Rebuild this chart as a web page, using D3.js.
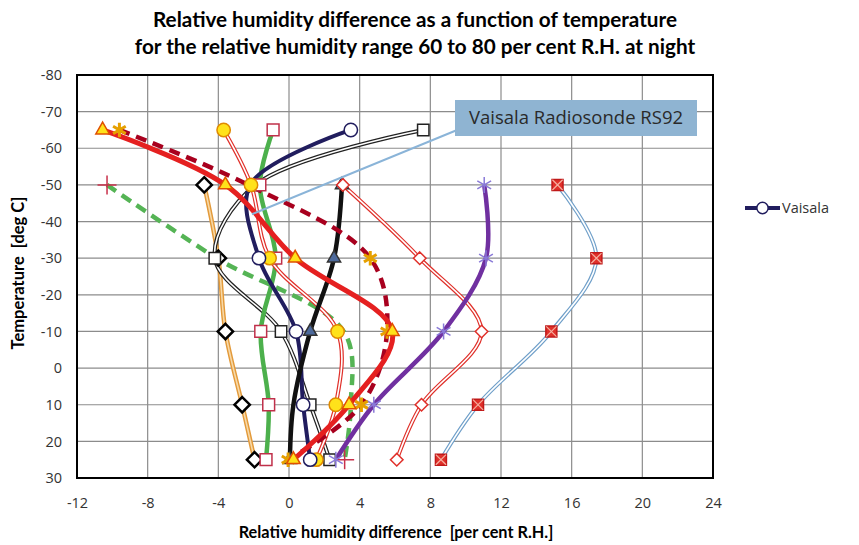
<!DOCTYPE html>
<meta charset="utf-8">
<script src="https://d3js.org/d3.v7.min.js"></script>
<style>
  body { margin: 0; background: #fff; }
  text { font-family: "Open Sans", sans-serif; white-space: pre; }
</style>
<div id="chart"></div>
<script>

// temperature levels (deg C) at which each series was sampled
var temps = [-65, -50, -30, -10, 10, 25];

// relative humidity difference per series (null = no value at that level)
var vaisala      = [3.5, -2.2, -1.7, 0.4, 0.8, 1.2];
var blackDouble  = [7.6, -1.9, -4.2, -0.45, 1.2, 2.3];
var redYellowCirc= [-3.7, -2.15, -1.1, 2.75, 2.65, 1.55];
var greenSquares = [-0.9, -1.65, -0.75, -1.6, -1.15, -1.3];
var orangeDiam   = [null, -4.8, -4.0, -3.6, -2.65, -1.95];
var redTriangles = [-10.55, -3.6, 0.35, 5.85, 3.4, 0.25];
var darkRedDash  = [-9.6, -2.3, 4.6, 5.55, 4.1, -0.05];
var greenDash    = [null, -10.3, -4.1, 3.1, 3.5, 3.15];
var purpleX      = [null, 11.05, 11.15, 8.75, 4.8, 2.65];
var redDiamonds  = [null, 3.05, 7.4, 10.9, 7.5, 6.1];
var blueRedSq    = [null, 15.2, 17.4, 14.85, 10.7, 8.6];
var blackTri     = [null, 3.0, 2.55, 1.2, 0.25, 0.05];

var xTicks = [-12, -8, -4, 0, 4, 8, 12, 16, 20, 24];
var yTicks = [-80, -70, -60, -50, -40, -30, -20, -10, 0, 10, 20, 30];

var width = 859, height = 545;
var margin = {top: 75, right: 146, bottom: 67, left: 77};

var svg = d3.select("#chart").append("svg")
    .attr("width", width)
    .attr("height", height);

var x = d3.scaleLinear().domain([-12, 24]).range([margin.left, width - margin.right]);
var y = d3.scaleLinear().domain([-80, 30]).range([margin.top, height - margin.bottom]);

// grid
svg.append("g").selectAll("line").data(xTicks).enter().append("line")
    .attr("x1", function(d) { return x(d); }).attr("x2", function(d) { return x(d); })
    .attr("y1", y(-80)).attr("y2", y(30))
    .attr("stroke", "#8c8c8c").attr("stroke-width", 1.2);
svg.append("g").selectAll("line").data(yTicks).enter().append("line")
    .attr("x1", x(-12)).attr("x2", x(24))
    .attr("y1", function(d) { return y(d); }).attr("y2", function(d) { return y(d); })
    .attr("stroke", "#8c8c8c").attr("stroke-width", 1.2);

// axes (labels only, Excel style); plain hyphen for negatives
var fmt = function(d) { return String(d); };
var xAxis = svg.append("g")
    .attr("transform", "translate(0," + y(30) + ")")
    .call(d3.axisBottom(x).tickValues(xTicks).tickFormat(fmt).tickSize(0).tickPadding(20));
var yAxis = svg.append("g")
    .attr("transform", "translate(" + x(-12) + ",0)")
    .call(d3.axisLeft(y).tickValues(yTicks).tickFormat(fmt).tickSize(0).tickPadding(15));
[xAxis, yAxis].forEach(function(g) {
  g.select(".domain").remove();
  g.selectAll("text").style("font-family", "'Open Sans', sans-serif")
    .style("font-size", "14.5px").attr("fill", "#333");
});

// clip for curves
svg.append("clipPath").attr("id", "plotclip").append("rect")
    .attr("x", x(-12)).attr("y", y(-80))
    .attr("width", x(24) - x(-12)).attr("height", y(30) - y(-80));

var line = d3.line()
    .defined(function(d) { return d[0] != null; })
    .x(function(d) { return x(d[0]); })
    .y(function(d) { return y(d[1]); })
    .curve(d3.curveCatmullRom.alpha(0.5));

function pts(vals) {
  return vals.map(function(v, i) { return [v, temps[i]]; })
             .filter(function(d) { return d[0] != null; });
}

var series = [
  {v: greenDash, color: "#55b455", w: 4.5, dash: "11,7", mark: "plus", mfill: "none", mstroke: "#c8304a", hide: [2, 3, 4]},
  {v: orangeDiam, color: "#e39a3a", w: 4.5, inner: "#f7d9a8", mark: "diamond", mfill: "#fff", mstroke: "#000", msw: 2.5, ms: 150},
  {v: blackDouble, color: "#222", w: 4, inner: "#fff", mark: "square", mfill: "#fff", mstroke: "#222", ms: 130},
  {v: greenSquares, color: "#4cb04c", w: 4.5, mark: "square", mfill: "#fff", mstroke: "#c0304a", ms: 140},
  {v: redYellowCirc, color: "#e0302a", w: 4, inner: "#fff", mark: "circle", mfill: "#ffe21a", mstroke: "#e08a00", ms: 140},
  {v: vaisala, color: "#211d5e", w: 4, mark: "circle", mfill: "#fff", mstroke: "#211d5e", ms: 140, hide: [1]},
  {v: blackTri, color: "#111", w: 4.5, mark: "triangle", mfill: "#4d6a9c", mstroke: "#333", ms: 75, hide: [0, 4]},
  {v: redDiamonds, color: "#e0302a", w: 4, inner: "#fff", mark: "diamond", mfill: "#fff", mstroke: "#e0302a", ms: 100},
  {v: purpleX, color: "#7030a0", w: 4.5, mark: "asterisk", mfill: "none", mstroke: "#8a7ad8", ms: 180},
  {v: blueRedSq, color: "#6f9fc9", w: 4, inner: "#fff", mark: "xsquare", mfill: "#e0302a", mstroke: "#c01818", ms: 120},
  {v: darkRedDash, color: "#a8001e", w: 4.5, dash: "11,7", mark: "asterisk", mfill: "none", mstroke: "#e6a000", msw: 3, ms: 150, hide: [1]},
  {v: redTriangles, color: "#e52020", w: 5, mark: "triangle", mfill: "#ffe21a", mstroke: "#e05000", ms: 80}
];

var lines = svg.append("g").attr("clip-path", "url(#plotclip)");
series.forEach(function(s) {
  var p = pts(s.v);
  lines.append("path").datum(p).attr("d", line)
      .attr("fill", "none").attr("stroke", s.color).attr("stroke-width", s.w)
      .attr("stroke-dasharray", s.dash || null);
  if (s.inner) {
    lines.append("path").datum(p).attr("d", line)
        .attr("fill", "none").attr("stroke", s.inner).attr("stroke-width", 1.6);
  }
});

var symbolTypes = {
  circle: d3.symbolCircle, square: d3.symbolSquare, diamond: d3.symbolDiamond2,
  triangle: d3.symbolTriangle, plus: d3.symbolPlus, asterisk: d3.symbolAsterisk,
  xsquare: d3.symbolSquare
};

var marks = svg.append("g");
series.forEach(function(s) {
  var hide = s.hide || [];
  var p = s.v.map(function(v, i) { return [v, temps[i], i]; })
    .filter(function(d) { return d[0] != null && hide.indexOf(d[2]) < 0; });
  var g = marks.append("g");
  g.selectAll("path").data(p).enter().append("path")
      .attr("transform", function(d) { return "translate(" + x(d[0]) + "," + y(d[1]) + ")"; })
      .attr("d", d3.symbol().type(symbolTypes[s.mark]).size(s.ms || 120))
      .attr("fill", s.mark == "plus" ? "none" : s.mfill)
      .attr("stroke", s.mstroke)
      .attr("stroke-width", s.msw || 1.5);
  if (s.mark == "xsquare") {
    g.selectAll("path.x").data(p).enter().append("path")
        .attr("transform", function(d) { return "translate(" + x(d[0]) + "," + y(d[1]) + ")"; })
        .attr("d", d3.symbol().type(d3.symbolTimes).size(70))
        .attr("fill", "none").attr("stroke", "#f5b0a0").attr("stroke-width", 1.2);
  }
});

// plot border
svg.append("rect")
    .attr("x", x(-12)).attr("y", y(-80))
    .attr("width", x(24) - x(-12)).attr("height", y(30) - y(-80))
    .attr("fill", "none").attr("stroke", "#000").attr("stroke-width", 2);

// title
svg.append("text").attr("x", 415).attr("y", 27).attr("text-anchor", "middle")
    .style("font-family", "Lato, sans-serif").style("font-weight", "bold").style("font-size", "20.7px")
    .text("Relative humidity difference as a function of temperature");
svg.append("text").attr("x", 415).attr("y", 54).attr("text-anchor", "middle")
    .style("font-family", "Lato, sans-serif").style("font-weight", "bold").style("font-size", "20.7px")
    .text("for the relative humidity range 60 to 80 per cent R.H. at night");

// axis titles
svg.append("text").attr("x", 396).attr("y", 538).attr("text-anchor", "middle")
    .style("font-family", "Lato, sans-serif").style("font-weight", "bold").style("font-size", "16.3px")
    .text("Relative humidity difference  [per cent R.H.]");
svg.append("text").attr("transform", "translate(24,273) rotate(-90)").attr("text-anchor", "middle")
    .style("font-family", "Lato, sans-serif").style("font-weight", "bold").style("font-size", "16.5px")
    .text("Temperature  [deg C]");

// legend
var lg = svg.append("g").attr("transform", "translate(745,208)");
lg.append("line").attr("x1", 0).attr("x2", 35).attr("y1", 0).attr("y2", 0)
    .attr("stroke", "#211d5e").attr("stroke-width", 4);
lg.append("path").attr("transform", "translate(17.5,0)")
    .attr("d", d3.symbol().type(d3.symbolCircle).size(100))
    .attr("fill", "#fff").attr("stroke", "#211d5e").attr("stroke-width", 1.5);
lg.append("text").attr("x", 37).attr("y", 5).style("font-size", "14.5px").attr("fill", "#333").text("Vaisala");

// callout
svg.append("line").attr("x1", 462).attr("y1", 128).attr("x2", x(-2.1)).attr("y2", y(-42))
    .attr("stroke", "#8ab4d8").attr("stroke-width", 2);
svg.append("rect").attr("x", 455).attr("y", 100).attr("width", 242).attr("height", 36)
    .attr("fill", "#8fb4d2");
svg.append("text").attr("x", 576).attr("y", 124).attr("text-anchor", "middle")
    .style("font-size", "18.5px").attr("fill", "#2a2a2a").text("Vaisala Radiosonde RS92");

</script>
